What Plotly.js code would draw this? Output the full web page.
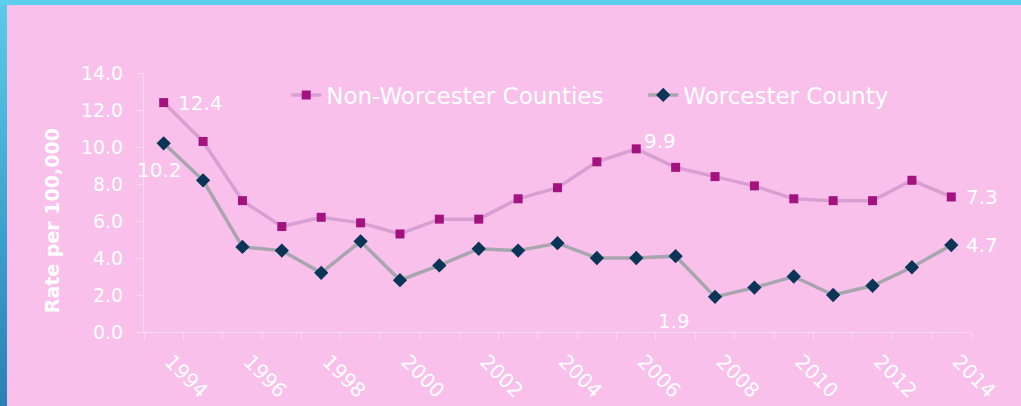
<!DOCTYPE html>
<html>
<head>
<meta charset="utf-8">
<script src="https://cdn.plot.ly/plotly-3.0.1.min.js"></script>
<style>
  html, body { margin: 0; padding: 0; width: 1021px; height: 406px; overflow: hidden; }
  body { background: linear-gradient(180deg, #5ccbe8 0%, #3fa6d2 50%, #2a80b4 100%); position: relative; }
  #topbar { position: absolute; left: 0; top: 0; width: 1021px; height: 5px; background: #5ccfec; }
  #chart { position: absolute; left: 7px; top: 5px; width: 1014px; height: 401px; }
</style>
</head>
<body>
<div id="topbar"></div>
<div id="chart"></div>
<script>
const years = ['1994','1995','1996','1997','1998','1999','2000','2001','2002','2003','2004',
               '2005','2006','2007','2008','2009','2010','2011','2012','2013','2014'];
const tickLabels = ['1994','','1996','','1998','','2000','','2002','','2004',
                    '','2006','','2008','','2010','','2012','','2014'];
const nonWorcester = [12.4,10.3,7.1,5.7,6.2,5.9,5.3,6.1,6.1,7.2,7.8,9.2,9.9,8.9,8.4,7.9,7.2,7.1,7.1,8.2,7.3];
const worcester    = [10.2,8.2,4.6,4.4,3.2,4.9,2.8,3.6,4.5,4.4,4.8,4.0,4.0,4.1,1.9,2.4,3.0,2.0,2.5,3.5,4.7];
const seriesNames = ['Non-Worcester Counties','Worcester County'];
const yTitle = 'Rate per 100,000';

const FONT = 'DejaVu Sans, sans-serif';
const WHITE = '#ffffff';
const AXIS = '#f6dcef';

const traces = [
  {
    x: years, y: nonWorcester, type: 'scatter', mode: 'lines+markers', name: seriesNames[0],
    legendwidth: 312,
    line: { color: '#d8a0d2', width: 3.5 },
    marker: { symbol: 'square', size: 9, color: '#a3127f', line: { width: 0 } }
  },
  {
    x: years, y: worcester, type: 'scatter', mode: 'lines+markers', name: seriesNames[1],
    line: { color: '#a7a5ad', width: 3.5 },
    marker: { symbol: 'diamond', size: 11, color: '#0b3557', line: { width: 0 } }
  }
];

function label(i, arr, anchor, xs, ys) {
  return { x: i, y: arr[i], xref: 'x', yref: 'y', text: arr[i].toFixed(1), showarrow: false,
           xanchor: anchor, yanchor: 'middle', xshift: xs, yshift: ys,
           font: { family: FONT, size: 20, color: WHITE } };
}
const last = years.length - 1;
const annotations = [
  label(0, nonWorcester, 'left', 12, 0),
  label(0, worcester, 'center', -4, -27),
  label(12, nonWorcester, 'left', 6, 8),
  label(14, worcester, 'right', -23, -24),
  label(last, nonWorcester, 'left', 13, 0),
  label(last, worcester, 'left', 13, 0),
  { xref: 'paper', yref: 'paper', x: -0.111, y: 0.4286, xanchor: 'center', yanchor: 'middle',
    textangle: -90, showarrow: false, text: '<b>' + yTitle + '</b>',
    font: { family: FONT, size: 19, color: WHITE } }
];

const layout = {
  width: 1014, height: 401,
  margin: { l: 137, r: 50, t: 68, b: 74 },
  paper_bgcolor: '#f9c0ec', plot_bgcolor: 'rgba(0,0,0,0)',
  font: { family: FONT, color: WHITE },
  showlegend: true,
  legend: {
    orientation: 'h', x: 0.172, xanchor: 'left', y: 0.915, yanchor: 'middle',
    bgcolor: 'rgba(0,0,0,0)', font: { family: FONT, size: 23, color: WHITE },
    itemwidth: 30, tracegroupgap: 0
  },
  xaxis: {
    type: 'category', categoryorder: 'array', categoryarray: years,
    range: [-0.5, years.length - 0.5], autorange: false,
    tickmode: 'array', tickvals: years, ticktext: tickLabels, tickangle: 45, tickson: 'boundaries',
    ticklabelstandoff: 9, ticklabelshift: 7,
    ticks: 'outside', ticklen: 7, tickcolor: AXIS, tickwidth: 1,
    showline: true, linecolor: AXIS, linewidth: 1, showgrid: false, zeroline: false,
    tickfont: { family: FONT, size: 20, color: WHITE }, automargin: false
  },
  yaxis: {
    range: [0, 14], autorange: false, dtick: 2, tick0: 0, tickformat: '.1f',
    ticks: 'outside', ticklen: 6, tickcolor: AXIS, tickwidth: 1, ticklabelstandoff: 10,
    showline: true, linecolor: AXIS, linewidth: 1, showgrid: false, zeroline: false,
    tickfont: { family: FONT, size: 19, color: WHITE }, automargin: false
  },
  annotations: annotations
};

Plotly.newPlot('chart', traces, layout, { displayModeBar: false, staticPlot: true });
</script>
</body>
</html>
